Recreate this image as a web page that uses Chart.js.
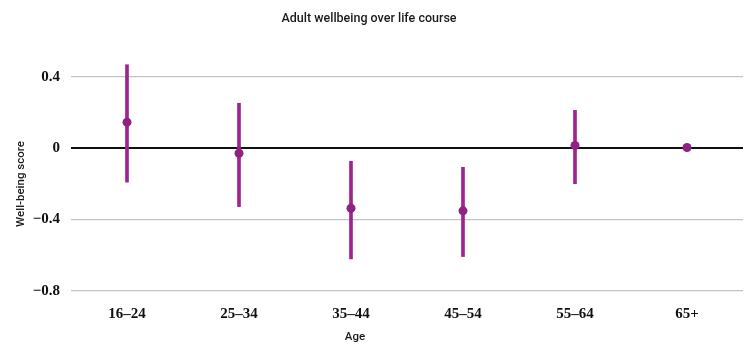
<!DOCTYPE html>
<html>
<head>
<meta charset="utf-8">
<script src="https://cdn.jsdelivr.net/npm/chart.js@4/dist/chart.umd.min.js"></script>
<style>
  html, body { margin: 0; padding: 0; background: #fff; }
  #wrap { width: 754px; height: 348px; }
</style>
</head>
<body>
<div id="wrap"><canvas id="chart"></canvas></div>
<script>
const ageGroups = ["16–24", "25–34", "35–44", "45–54", "55–64", "65+"];
const meanScore = [0.146, -0.028, -0.336, -0.351, 0.015, 0.004];
const ciLow = [-0.19, -0.327, -0.62, -0.607, -0.199, null];
const ciHigh = [0.468, 0.252, -0.073, -0.107, 0.212, null];
const yTickValues = [-0.8, -0.4, 0, 0.4];
const yTickLabels = ["−0.8", "−0.4", "0", "0.4"];

const barColor = "#a0238f";
const dotColor = "#8f2282";

// title and both axis captions are painted by hand
const captions = {
  id: "captions",
  afterDraw(chart) {
    const ctx = chart.ctx;
    ctx.save();
    ctx.fillStyle = "#1a1a1a";
    ctx.textAlign = "center";
    ctx.textBaseline = "middle";
    ctx.font = "500 12.5px Roboto";
    ctx.fillText("Adult wellbeing over life course", 369, 19);
    ctx.font = "500 11.5px Roboto";
    ctx.fillText("Age", 355, 337);
    ctx.translate(21, 184);
    ctx.rotate(-Math.PI / 2);
    ctx.fillText("Well-being score", 0, 0);
    ctx.restore();
  }
};

new Chart(document.getElementById("chart"), {
  data: {
    labels: ageGroups,
    datasets: [
      {
        type: "line",
        label: "Mean",
        data: meanScore,
        showLine: false,
        pointRadius: 4.5,
        pointHoverRadius: 4.5,
        pointBackgroundColor: dotColor,
        pointBorderWidth: 0,
        order: 0
      },
      {
        type: "bar",
        label: "95% CI",
        data: ciLow.map((lo, i) => (lo === null ? null : [lo, ciHigh[i]])),
        backgroundColor: barColor,
        barThickness: 3,
        borderSkipped: false,
        order: 1
      }
    ]
  },
  options: {
    responsive: true,
    maintainAspectRatio: false,
    animation: false,
    layout: { padding: { top: 59, right: 11, left: 0, bottom: 0 } },
    plugins: {
      legend: { display: false },
      tooltip: { enabled: false }
    },
    scales: {
      x: {
        grid: { display: false },
        border: { display: false },
        ticks: {
          color: "#111",
          padding: 6,
          font: { family: "Liberation Serif", size: 15, weight: "bold" }
        },
        afterFit(scale) { scale.height = 57; }
      },
      y: {
        min: -0.8,
        max: 0.5,
        afterBuildTicks(scale) {
          scale.ticks = yTickValues.map((v) => ({ value: v }));
        },
        afterFit(scale) { scale.width = 71; },
        border: { display: false },
        grid: {
          drawTicks: false,
          color: (c) => (c.tick && c.tick.value === 0 ? "#111" : "#c4c4c4"),
          lineWidth: (c) => (c.tick && c.tick.value === 0 ? 2 : 1.2)
        },
        ticks: {
          color: "#111",
          padding: 11,
          font: { family: "Liberation Serif", size: 15, weight: "bold" },
          callback: (v) => yTickLabels[yTickValues.indexOf(v)]
        }
      }
    }
  },
  plugins: [captions]
});
</script>
</body>
</html>
